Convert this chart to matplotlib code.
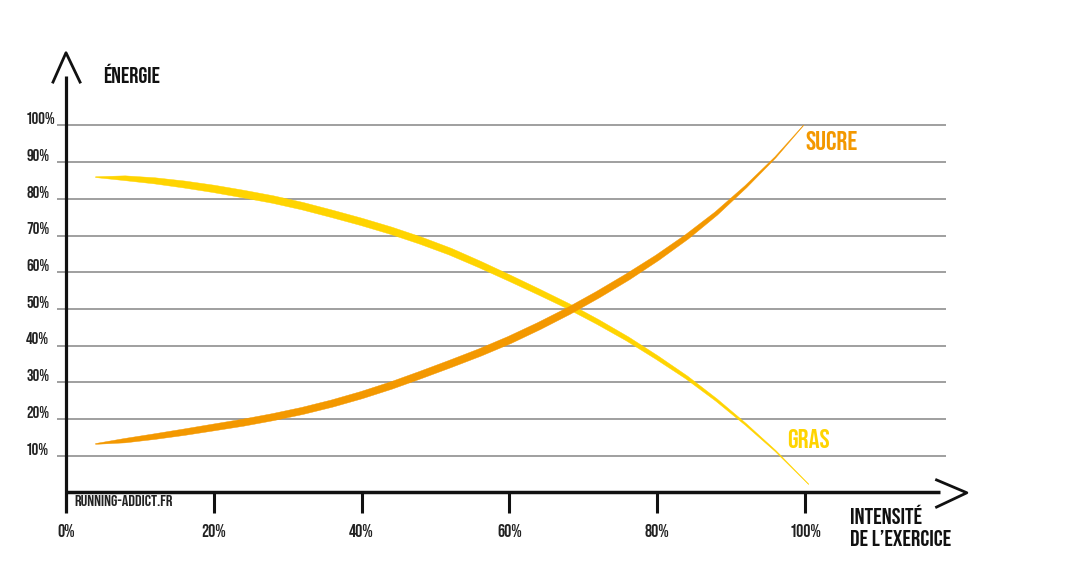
import numpy as np
import matplotlib
matplotlib.use("Agg")
import matplotlib.pyplot as plt
from matplotlib import font_manager as fm
from matplotlib.patches import Polygon
from matplotlib.transforms import IdentityTransform

# ---------------- data ----------------
intensity_ticks = [0, 20, 40, 60, 80, 100]
intensity_labels = ["0%", "20%", "40%", "60%", "80%", "100%"]
energy_ticks = [10, 20, 30, 40, 50, 60, 70, 80, 90, 100]
energy_labels = ["10%", "20%", "30%", "40%", "50%", "60%", "70%", "80%", "90%", "100%"]

fat_x = [4, 8, 12, 16, 20, 24, 28, 32, 36, 40, 44, 48, 52, 56, 60, 64, 68, 72, 76, 80, 84, 88, 92, 96, 100.5]
fat_y = [85.9, 85.6, 84.9, 83.9, 82.7, 81.3, 79.8, 78.0, 75.9, 73.7, 71.3, 68.6, 65.6, 62.1, 58.4,
         54.6, 50.7, 46.4, 41.8, 36.7, 31.3, 25.2, 18.5, 11.3, 2.2]

sugar_x = [4, 8, 12, 16, 20, 24, 28, 32, 36, 40, 44, 48, 52, 56, 60, 64, 68, 72, 76, 80, 84, 88, 92, 96, 99.8]
sugar_y = [13.2, 14.1, 15.2, 16.4, 17.7, 19.0, 20.5, 22.2, 24.2, 26.5, 29.1, 32.0, 35.0, 38.1, 41.5,
           45.3, 49.4, 53.9, 58.7, 63.9, 69.6, 76.0, 83.3, 91.3, 100.0]

# ---------------- style ----------------
W, H, DPI = 1068, 571, 100
X0_PX, PX_PER_X = 66.0, 7.39      # pixel column of x=0, pixels per % intensity
Y0_PX, PX_PER_Y = 492.4, 3.67     # pixel row of y=0, pixels per % energy

YELLOW = "#FFD400"
ORANGE = "#F39800"
GRID = "#979797"
INK = "#111111"


def pick_condensed_bold():
    wanted = ["Bebas Neue", "Oswald", "Liberation Sans Narrow", "Roboto Condensed",
              "Open Sans Condensed", "Noto Sans Condensed", "Arial Narrow"]
    entries = fm.fontManager.ttflist

    def wnum(e):
        w = e.weight
        if isinstance(w, str):
            w = {"bold": 700, "semibold": 600, "demibold": 600, "heavy": 800, "black": 900}.get(w, 400)
        return w
    for name in wanted:
        cands = [e for e in entries if e.name == name and e.style == "normal"]
        if cands:
            cands.sort(key=lambda e: abs(wnum(e) - 700))
            return cands[0].fname, True
    cands = [e for e in entries
             if (("ondensed" in e.fname or "arrow" in e.fname or e.stretch in ("condensed", "semi-condensed"))
                 and e.style == "normal")]
    if cands:
        cands.sort(key=lambda e: abs(wnum(e) - 700))
        return cands[0].fname, True
    return fm.findfont(fm.FontProperties(family="DejaVu Sans", weight="bold")), False


FONT_FILE, CONDENSED = pick_condensed_bold()
SCALE = 1.0 if CONDENSED else 0.82


def fp(size):
    return fm.FontProperties(fname=FONT_FILE, size=size * SCALE)


# brush half-width profiles (x %, half-width px)
fat_w_x = [4, 8, 14, 22, 50, 62, 72, 80, 88, 95, 100.5]
fat_w_px = [0.4, 2.4, 3.4, 3.8, 3.6, 3.0, 2.5, 2.0, 1.3, 0.7, 0.2]
sugar_w_x = [4, 8, 14, 22, 60, 76, 85, 90, 95, 99.8]
sugar_w_px = [0.4, 2.2, 3.1, 3.5, 3.8, 3.4, 2.5, 1.6, 0.8, 0.2]

fig = plt.figure(figsize=(W / DPI, H / DPI), dpi=DPI)
ax = fig.add_axes([0, 0, 1, 1])
ax.set_xlim((0 - X0_PX) / PX_PER_X, (W - X0_PX) / PX_PER_X)
ax.set_ylim((Y0_PX - H) / PX_PER_Y, (Y0_PX - 0) / PX_PER_Y)
ax.axis("off")

# grid lines
ax.hlines(energy_ticks, -1.2, 119.1, colors=GRID, linewidth=1.3, zorder=1)


def brush(xs, ys, wx, wpx, color):
    xs = np.asarray(xs, float)
    pts = ax.transData.transform(np.column_stack([xs, ys]))
    d = np.gradient(pts, axis=0)
    d /= np.linalg.norm(d, axis=1)[:, None]
    n = np.column_stack([-d[:, 1], d[:, 0]])
    hw = np.interp(xs, wx, wpx)[:, None]
    poly = np.vstack([pts + n * hw, (pts - n * hw)[::-1]])
    ax.add_patch(Polygon(poly, closed=True, facecolor=color, edgecolor=color, linewidth=0.3,
                         transform=IdentityTransform(), zorder=3))


brush(fat_x, fat_y, fat_w_x, fat_w_px, YELLOW)
brush(sugar_x, sugar_y, sugar_w_x, sugar_w_px, ORANGE)

# axes with arrows
ax.plot([0, 0], [-5.6, 113.5], color=INK, linewidth=2.3, solid_capstyle="butt", zorder=4)
ax.plot([-1.76, 0, 1.9], [111.8, 119.8, 111.8], color=INK, linewidth=2.0, zorder=4)
ax.plot([0, 118.3], [0, 0], color=INK, linewidth=2.5, solid_capstyle="butt", zorder=4)
ax.plot([117.8, 121.9, 117.8], [3.4, -0.1, -4.0], color=INK, linewidth=2.0, zorder=4)
for t in intensity_ticks[1:]:
    ax.plot([t, t], [0, -5.6], color=INK, linewidth=2.2, solid_capstyle="butt", zorder=4)

# tick labels
for t, lab in zip(intensity_ticks, intensity_labels):
    ax.text(t, -12.1, lab, ha="center", va="baseline", fontproperties=fp(12.8), color="#222222")
for t, lab in zip(energy_ticks, energy_labels):
    ax.text(-5.4, t + 0.3, lab, ha="left", va="baseline", fontproperties=fp(12), color="#222222")

# titles / labels
ax.text(5.0, 111.5, "ÉNERGIE", ha="left", va="baseline", fontproperties=fp(16.5), color=INK)
ax.text(106.1, (Y0_PX - 524) / PX_PER_Y, "INTENSITÉ", ha="left", va="baseline",
        fontproperties=fp(16.8), color=INK)
ax.text(106.1, (Y0_PX - 546.5) / PX_PER_Y, "DE L’EXERCICE", ha="left", va="baseline",
        fontproperties=fp(16.8), color=INK)
ax.text(1.2, (Y0_PX - 506) / PX_PER_Y, "RUNNING-ADDICT.FR", ha="left", va="baseline",
        fontproperties=fp(11.8), color="#222222")
ax.text(100.1, 93.4, "SUCRE", ha="left", va="baseline", fontproperties=fp(19.5), color=ORANGE)
ax.text(97.6, 12.1, "GRAS", ha="left", va="baseline", fontproperties=fp(19.5), color=YELLOW)

fig.savefig("out.png", dpi=DPI)
